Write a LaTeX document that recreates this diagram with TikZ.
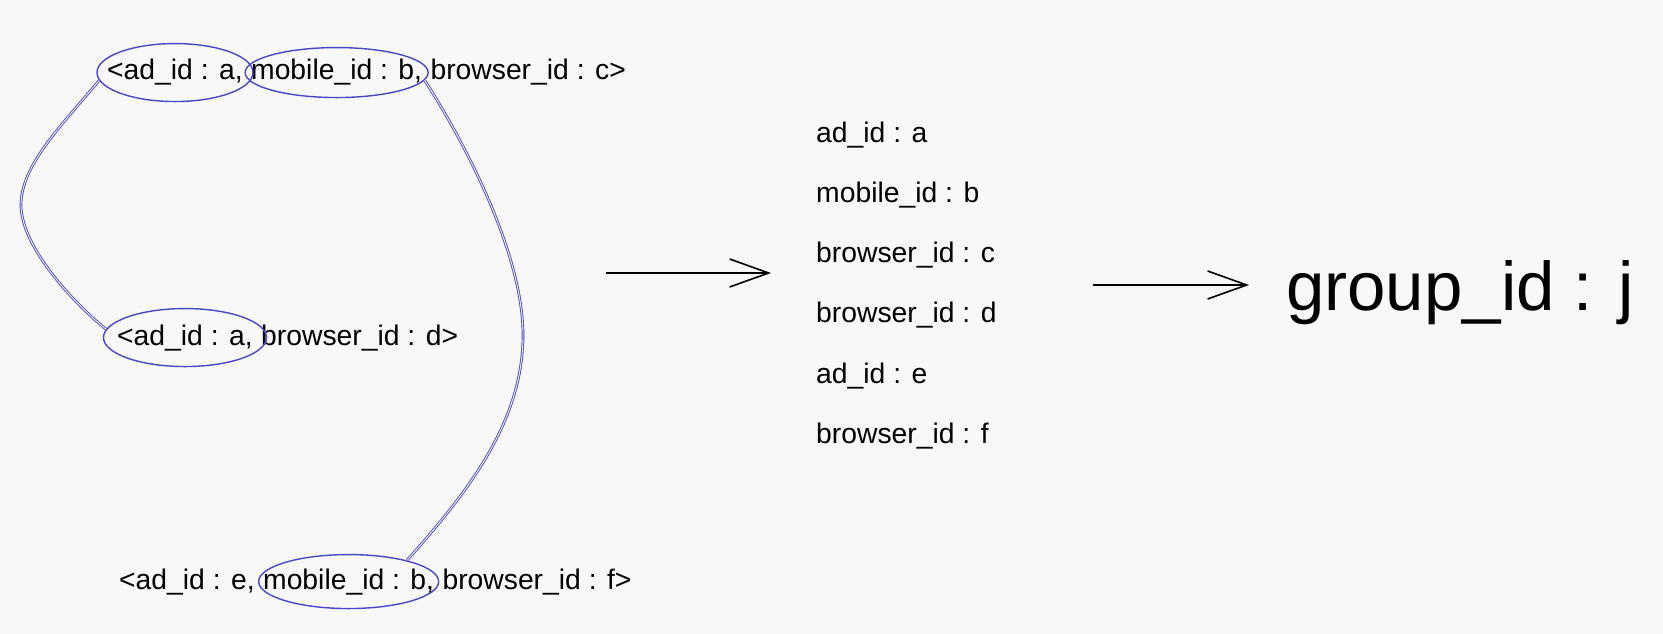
\documentclass[tikz,border=0pt]{standalone}
\usepackage{fontspec}
\setmainfont{Liberation Sans}
\usetikzlibrary{positioning,shapes.geometric,arrows.meta}

\definecolor{paper}{RGB}{248,248,248}
\definecolor{linkblue}{RGB}{72,72,196}

\begin{document}
\begin{tikzpicture}[x=1pt,y=-1pt,
  idtext/.style={inner sep=0pt, font=\fontsize{28.3}{34}\selectfont},
  ring/.style={ellipse, draw=linkblue, line width=1.4pt, inner sep=0pt},
  link/.style={draw=linkblue, line width=0.9pt, double=paper, double distance=0.9pt},
  flow/.style={line width=2pt, -{Straight Barb[length=39pt,width=28pt,line width=1.6pt]}}]

  % Paper
  \fill[paper] (0,0) rectangle (1663,634);
  \useasboundingbox (0,0) rectangle (1663,634);

  % Input records
  \node[idtext, anchor=base west] (l1a) at (107,80) {<ad\_id : a,};
  \node[idtext, base right=8pt of l1a] (l1b) {mobile\_id : b,};
  \node[idtext, base right=8pt of l1b] (l1c) {browser\_id : c>};

  \node[idtext, anchor=base west] (l2a) at (117,345) {<ad\_id : a,};
  \node[idtext, base right=8pt of l2a] (l2b) {browser\_id : d>};

  \node[idtext, anchor=base west] (l3a) at (119,589) {<ad\_id : e,};
  \node[idtext, base right=8pt of l3a] (l3b) {mobile\_id : b,};
  \node[idtext, base right=8pt of l3b] (l3c) {browser\_id : f>};

  % Shared ids
  \node[ring, minimum width=156pt, minimum height=58pt] (r1) at (l1a) {};
  \node[ring, minimum width=183pt, minimum height=50pt] (r2) at (l1b) {};
  \node[ring, minimum width=163pt, minimum height=58pt] (r3) at (l2a) {};
  \node[ring, minimum width=180pt, minimum height=54pt] (r4) at (l3b) {};

  % Links between records
  \coordinate (lbend) at (21,205);
  \coordinate (rbend) at (523,335);
  \draw[link] (r1.186) .. controls (62,125) and (21,165) .. (lbend)
    .. controls (21,245) and (70,300) .. (r3.174);
  \draw[link] (r2.355) .. controls (460,135) and (523,250) .. (rbend)
    .. controls (523,420) and (470,490) .. (r4.20);

  % Merged ids
  \node[idtext, anchor=base west] (k1) at (816,142) {ad\_id : a};
  \node[idtext, anchor=base west] (k2) at (816,202) {mobile\_id : b};
  \node[idtext, anchor=base west] (k3) at (816,262) {browser\_id : c};
  \node[idtext, anchor=base west] (k4) at (816,322) {browser\_id : d};
  \node[idtext, anchor=base west] (k5) at (816,383) {ad\_id : e};
  \node[idtext, anchor=base west] (k6) at (816,443) {browser\_id : f};

  % Group
  \node[inner sep=0pt, anchor=base west, font=\fontsize{69}{80}\selectfont] (grp) at (1286,310) {group\_id : j};

  % Arrows
  \coordinate (a1s) at (606,273);
  \coordinate (a1e) at (771,273);
  \coordinate (a2s) at (1093,285);
  \coordinate (a2e) at (1249,285);
  \draw[flow] (a1s) -- (a1e);
  \draw[flow] (a2s) -- (a2e);
\end{tikzpicture}
\end{document}
